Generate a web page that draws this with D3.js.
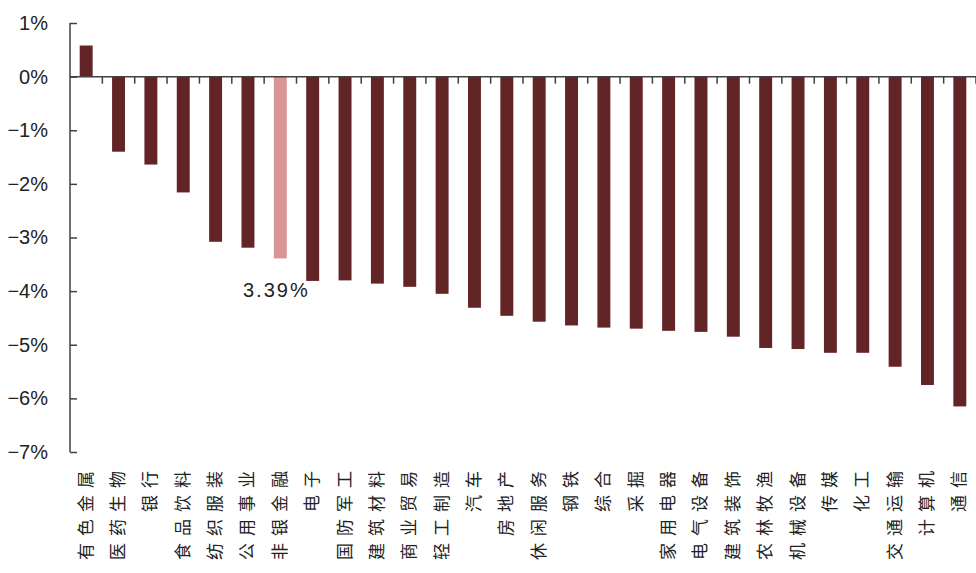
<!DOCTYPE html>
<html lang="zh">
<head>
    <meta charset="UTF-8">
    <title>行业涨跌幅</title>
    <style>
        body, html {
            margin: 0;
            padding: 0;
            background: #fff;
            overflow: hidden;
        }
        .ytick text {
            font: 20px "Liberation Sans", Arial, sans-serif;
            fill: #222;
        }
        .cat {
            font: 17px "Noto Sans CJK SC", sans-serif;
            fill: #222;
            letter-spacing: 7px;
        }
        .note {
            font: 20px "Liberation Sans", Arial, sans-serif;
            fill: #222;
        }
    </style>
</head>
<body>
    <script src="https://d3js.org/d3.v7.min.js"></script>
    <script>
        // 申万一级行业 区间涨跌幅
        const categories = ["有色金属", "医药生物", "银行", "食品饮料", "纺织服装", "公用事业", "非银金融",
            "电子", "国防军工", "建筑材料", "商业贸易", "轻工制造", "汽车", "房地产", "休闲服务", "钢铁",
            "综合", "采掘", "家用电器", "电气设备", "建筑装饰", "农林牧渔", "机械设备", "传媒", "化工",
            "交通运输", "计算机", "通信"];
        const values = [0.58, -1.40, -1.64, -2.16, -3.08, -3.19, -3.39,
            -3.81, -3.80, -3.86, -3.92, -4.05, -4.31, -4.46, -4.57, -4.64,
            -4.68, -4.70, -4.74, -4.76, -4.85, -5.06, -5.08, -5.15, -5.15,
            -5.41, -5.75, -6.15];
        const highlight = "非银金融";
        const yTicks = [1, 0, -1, -2, -3, -4, -5, -6, -7];

        const width = 976, height = 573;
        const mLeft = 70, mRight = 976, mTop = 23, mBottom = 452;

        const data = categories.map((c, i) => ({ name: c, value: values[i] }));

        const svg = d3.select("body").append("svg")
            .attr("width", width)
            .attr("height", height);

        const x = d3.scaleBand()
            .domain(categories)
            .range([mLeft, mRight])
            .paddingInner(0.6)
            .paddingOuter(0.3);

        const y = d3.scaleLinear()
            .domain([-7, 1])
            .range([mBottom, mTop]);

        // bars
        svg.selectAll(".bar")
            .data(data)
            .enter().append("rect")
            .attr("class", "bar")
            .attr("x", d => x(d.name))
            .attr("width", x.bandwidth())
            .attr("y", d => y(Math.max(0, d.value)))
            .attr("height", d => Math.abs(y(d.value) - y(0)))
            .attr("fill", d => d.name === highlight ? "#D99694" : "#632426");

        // y axis
        const yAxis = d3.axisRight(y)
            .tickValues(yTicks)
            .tickSize(7)
            .tickFormat(d => (d < 0 ? "\u2212" : "") + Math.abs(d) + "%");

        const gy = svg.append("g")
            .attr("transform", `translate(${mLeft},0)`)
            .call(yAxis);
        gy.select(".domain").remove();
        gy.selectAll(".tick").attr("class", "tick ytick");
        gy.selectAll(".tick line").attr("stroke", "#404040").attr("stroke-width", 1.5);
        gy.selectAll(".tick text")
            .attr("x", -22)
            .attr("text-anchor", "end");
        gy.append("line")
            .attr("x1", 0).attr("x2", 0)
            .attr("y1", y(1)).attr("y2", y(-7))
            .attr("stroke", "#404040")
            .attr("stroke-width", 1.5);

        // zero line with ticks at band boundaries
        const step = x.step();
        const xEdges = d3.range(1, categories.length + 1).map(i => mLeft + i * step);
        svg.append("line")
            .attr("x1", mLeft).attr("x2", mRight)
            .attr("y1", y(0)).attr("y2", y(0))
            .attr("stroke", "#404040")
            .attr("stroke-width", 1.5);
        svg.selectAll(".xtick")
            .data(xEdges)
            .enter().append("line")
            .attr("class", "xtick")
            .attr("x1", d => d).attr("x2", d => d)
            .attr("y1", y(0)).attr("y2", y(0) + 7)
            .attr("stroke", "#404040")
            .attr("stroke-width", 1.5);

        // category labels, rotated
        svg.selectAll(".cat")
            .data(data)
            .enter().append("text")
            .attr("class", "cat")
            .attr("text-anchor", "end")
            .attr("dominant-baseline", "central")
            .attr("transform", d => `translate(${x(d.name) + x.bandwidth() / 2 - 2},464) rotate(-90)`)
            .text(d => d.name);

        // annotation for highlighted bar
        const hv = values[categories.indexOf(highlight)];
        svg.append("text")
            .attr("class", "note")
            .attr("x", x(highlight) + x.bandwidth() / 2 - 4)
            .attr("y", y(hv) + 39)
            .attr("text-anchor", "middle")
            .attr("letter-spacing", "2px")
            .text(Math.abs(hv).toFixed(2) + "%");
    </script>
</body>
</html>
